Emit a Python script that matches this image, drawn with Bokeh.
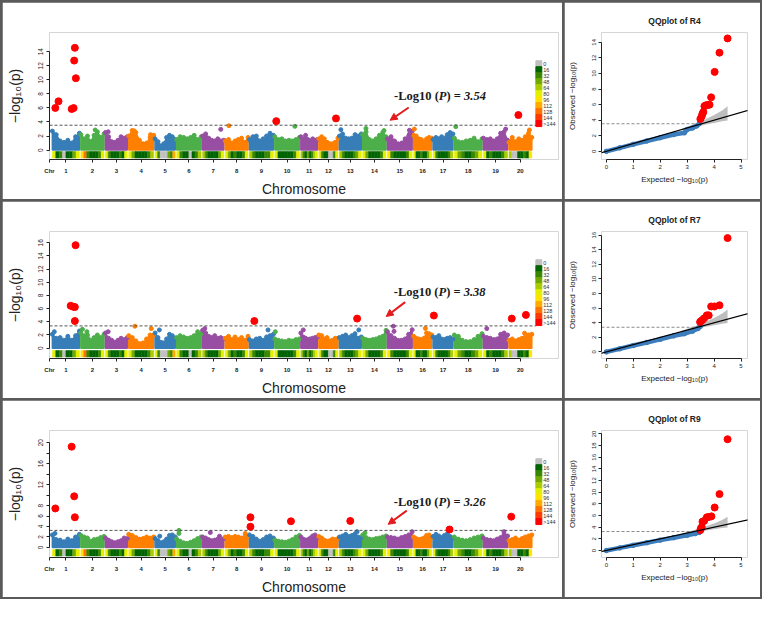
import numpy as np
from bokeh.plotting import figure
from bokeh.models import Range1d, FixedTicker, Label, Arrow, NormalHead, Slope
from bokeh.layouts import column, row
from bokeh.core.properties import value
from bokeh.embed import file_html
from bokeh.resources import INLINE

# ---------------- data ----------------
chr_names = [str(i) for i in range(1, 21)]
chr_len = [56.8, 48.6, 45.8, 52.4, 42.2, 51.4, 44.6, 47.8, 50.2, 51.6,
           34.8, 40.1, 45.9, 49.0, 51.8, 37.9, 41.6, 58.0, 50.6, 47.9]
# SNP density class per chromosome bin (0 = grey, 1..10 = green->red)
density_class = [
    [5, 1, 2, 0, 1, 1, 3, 5], [6, 8, 2, 1, 1, 1, 2, 5], [5, 2, 1, 1, 1, 2, 1, 5],
    [5, 3, 1, 1, 1, 1, 2, 4], [5, 2, 0, 0, 0, 3, 2, 7], [5, 2, 1, 1, 0, 1, 2, 4],
    [4, 2, 1, 1, 1, 1, 3, 5], [5, 3, 1, 2, 1, 1, 2, 5], [4, 2, 1, 1, 1, 2, 2, 5],
    [5, 1, 1, 1, 1, 1, 2, 5], [4, 2, 1, 3, 1, 2, 4, 5], [5, 2, 1, 1, 0, 0, 2, 5],
    [4, 2, 1, 1, 1, 2, 3, 5], [5, 3, 1, 1, 1, 1, 2, 5], [6, 2, 1, 1, 1, 1, 2, 5],
    [5, 1, 1, 2, 1, 1, 3, 5], [5, 2, 1, 1, 1, 1, 2, 4], [5, 3, 2, 1, 1, 2, 3, 5],
    [5, 1, 2, 1, 1, 1, 2, 4], [4, 0, 0, 1, 1, 2, 1, 6]]
density_labels = ["0", "16", "32", "48", "64", "80", "96", "112", "128", "144", ">144"]
density_colors = ["#C0C0C0", "#006400", "#398600", "#71A900", "#AACB00", "#E3EE00",
                  "#FFE300", "#FFAA00", "#FF7100", "#FF3900", "#FF0000"]

traits = ["R4", "R7", "R9"]
thresholds = [3.54, 3.38, 3.26]

# upper envelope of the dense SNP cloud (-log10 p) along each chromosome
profile_r4 = [
    [2.7, 2.2, 1.3, 1.1, 1.4, 1.0, 1.9, 2.4], [2.2, 1.6, 2.0, 1.2, 2.1, 2.6, 1.8, 2.3],
    [2.5, 1.9, 1.2, 1.1, 1.4, 1.9, 1.7, 1.9], [2.0, 2.8, 2.5, 1.4, 0.9, 1.0, 1.8, 2.1],
    [1.6, 1.2, 0.6, 0.9, 1.8, 2.1, 1.9, 1.5], [1.5, 1.9, 1.8, 1.6, 1.8, 2.1, 1.5, 1.9],
    [2.0, 2.3, 1.7, 1.4, 1.3, 1.6, 1.3, 1.4], [1.3, 1.5, 1.0, 1.3, 1.5, 1.7, 1.1, 1.8],
    [1.5, 1.9, 2.0, 1.3, 1.6, 2.0, 2.4, 2.1], [1.9, 1.5, 1.6, 1.3, 1.4, 1.3, 1.5, 1.8],
    [1.9, 1.6, 2.1, 1.5, 1.3, 1.6, 1.4, 1.5], [1.6, 1.9, 1.6, 1.1, 0.9, 0.9, 1.1, 1.7],
    [2.0, 2.3, 1.7, 1.6, 1.7, 2.2, 2.0, 2.3], [2.2, 2.6, 1.5, 1.3, 1.6, 2.1, 2.5, 1.9],
    [1.6, 1.9, 1.3, 0.9, 1.0, 1.6, 2.0, 2.7], [2.1, 2.0, 1.6, 1.5, 1.2, 1.6, 1.8, 1.7],
    [1.5, 1.8, 1.6, 1.9, 1.7, 2.2, 2.5, 2.3], [1.7, 1.2, 1.1, 1.3, 1.4, 1.7, 1.2, 1.6],
    [1.7, 1.5, 1.6, 1.3, 1.6, 2.4, 2.6, 1.4], [1.1, 1.8, 1.2, 1.6, 1.4, 1.9, 2.4, 1.8]]
profile_r7 = [
    [2.1, 1.5, 1.6, 1.2, 1.8, 1.2, 1.9, 2.6], [2.3, 1.9, 2.0, 1.2, 1.6, 2.0, 1.6, 2.1],
    [2.3, 1.5, 1.2, 0.9, 1.2, 1.5, 1.3, 1.6], [1.9, 1.6, 1.1, 0.7, 0.8, 1.4, 2.0, 2.0],
    [2.3, 1.6, 0.9, 0.8, 1.4, 2.1, 1.9, 1.5], [1.6, 1.9, 1.7, 1.5, 1.6, 1.9, 2.5, 2.2],
    [2.7, 2.3, 1.8, 1.6, 1.9, 1.5, 1.6, 1.4], [1.5, 1.8, 1.3, 1.7, 1.3, 1.6, 1.2, 1.8],
    [1.3, 1.1, 1.4, 1.5, 1.2, 1.7, 1.9, 2.1], [1.4, 1.2, 1.1, 1.0, 1.2, 1.1, 1.3, 1.4],
    [2.3, 1.7, 1.5, 1.3, 1.4, 1.5, 1.6, 1.7], [2.0, 1.9, 1.4, 1.6, 1.1, 1.2, 1.5, 1.5],
    [1.6, 1.8, 2.0, 1.6, 1.9, 2.2, 1.5, 1.7], [1.5, 1.3, 1.2, 1.3, 1.4, 1.6, 1.8, 2.7],
    [2.5, 1.9, 1.5, 1.2, 1.2, 1.4, 2.1, 2.8], [1.8, 1.5, 1.4, 1.3, 1.5, 2.3, 2.2, 2.0],
    [1.7, 1.6, 1.9, 1.4, 1.3, 1.5, 1.6, 1.4], [2.0, 1.8, 1.2, 1.0, 1.0, 1.3, 1.8, 2.2],
    [1.8, 1.6, 1.5, 1.3, 1.4, 2.1, 2.3, 2.0], [1.2, 1.4, 1.1, 1.3, 1.5, 1.7, 2.0, 2.1]]
profile_r9 = [
    [2.4, 1.5, 1.4, 1.1, 1.6, 1.3, 2.0, 2.5], [2.3, 2.0, 1.8, 1.2, 1.5, 1.6, 1.9, 2.1],
    [1.8, 1.4, 1.1, 0.9, 1.1, 1.3, 1.8, 1.7], [2.5, 2.3, 1.9, 1.6, 1.7, 2.0, 1.8, 2.0],
    [1.7, 1.3, 0.9, 1.1, 1.6, 2.3, 2.4, 2.0], [1.6, 1.2, 0.9, 0.8, 1.0, 1.3, 1.7, 2.0],
    [2.0, 1.8, 1.5, 1.3, 1.4, 1.6, 1.5, 1.7], [2.0, 2.1, 1.9, 2.1, 2.0, 1.8, 2.0, 2.2],
    [2.4, 2.1, 1.6, 1.2, 1.5, 2.0, 2.2, 1.8], [1.4, 1.2, 1.1, 1.0, 1.2, 1.5, 2.0, 2.3],
    [2.0, 1.6, 1.4, 1.5, 1.8, 2.2, 2.4, 1.9], [2.1, 1.8, 1.4, 1.2, 1.3, 1.6, 1.5, 1.7],
    [2.0, 2.2, 2.5, 2.1, 2.3, 2.6, 2.0, 1.9], [2.4, 1.9, 1.6, 1.5, 1.7, 1.8, 2.0, 2.2],
    [2.0, 1.9, 1.8, 1.6, 1.9, 2.1, 2.4, 3.0], [2.0, 1.7, 1.5, 1.6, 1.8, 2.3, 2.4, 1.9],
    [2.1, 2.5, 2.2, 1.9, 2.3, 2.6, 2.1, 1.8], [2.0, 1.6, 1.4, 1.3, 1.5, 1.8, 2.0, 2.2],
    [1.8, 1.5, 1.4, 1.3, 1.6, 1.9, 2.5, 2.2], [1.3, 1.5, 1.8, 1.4, 1.7, 2.0, 2.2, 2.4]]

# significant SNPs (chromosome, position Mb, -log10 p)
sig_r4_chr = [1, 1, 1, 1, 1, 1, 1, 10, 12, 20]
sig_r4_pos = [6.2, 12.9, 40.5, 44.6, 45.8, 47.2, 49.3, 3.0, 35.9, 19.7]
sig_r4_val = [6.0, 6.94, 5.85, 5.98, 12.74, 14.56, 10.23, 4.12, 4.51, 4.99]
sig_r7_chr = [1, 1, 1, 1, 1, 9, 13, 17, 20, 20]
sig_r7_pos = [38.4, 43.8, 47.2, 47.2, 48.7, 10.2, 37.2, 1.6, 5.9, 35.5]
sig_r7_val = [6.43, 6.29, 6.24, 4.12, 15.63, 4.12, 4.49, 4.95, 4.49, 5.05]
sig_r9_chr = [1, 1, 1, 1, 9, 9, 10, 13, 17, 20]
sig_r9_pos = [6.2, 40.5, 45.8, 47.2, 2.0, 2.0, 33.8, 22.8, 34.5, 4.7]
sig_r9_val = [7.45, 19.25, 9.77, 5.76, 5.76, 3.96, 5.0, 5.06, 3.43, 5.88]

# isolated sub-threshold SNPs above the cloud
pt_r4_chr = [2, 3, 4, 4, 7, 8, 10, 13, 14, 14, 15, 15, 16, 18, 19, 20]
pt_r4_pos = [30.0, 5.7, 11.7, 45.8, 38.1, 7.6, 42.0, 3.1, 6.8, 44.6, 46.0, 46.0, 1.5, 2.9, 46.6, 42.9]
pt_r4_val = [2.86, 2.6, 2.73, 2.2, 2.95, 3.47, 3.38, 2.91, 3.08, 2.78, 2.82, 2.26, 2.99, 3.34, 2.99, 2.86]
pt_r7_chr = [1, 2, 2, 3, 4, 4, 5, 7, 9, 10, 11, 13, 15, 15, 16, 19, 20]
pt_r7_pos = [4.1, 3.3, 12.7, 5.7, 13.0, 47.3, 8.9, 4.6, 38.9, 1.0, 5.1, 40.7, 12.3, 13.7, 24.7, 7.0, 32.7]
pt_r7_val = [2.5, 2.87, 2.5, 2.5, 3.33, 2.97, 2.77, 2.97, 2.77, 2.5, 2.77, 2.77, 3.33, 2.55, 3.0, 2.97, 2.27]
pt_r9_chr = [1, 5, 6, 6, 7, 7, 8, 13, 14, 19]
pt_r9_pos = [5.5, 9.7, 4.8, 4.8, 16.2, 35.5, 41.9, 37.2, 4.8, 43.1]
pt_r9_val = [2.68, 2.15, 3.26, 2.68, 2.85, 2.15, 2.68, 3.02, 2.79, 3.02]

# QQ plots: expected vs observed -log10 p
qq_r4_exp = [0, 0.5, 1.0, 1.5, 2.0, 2.5, 2.9, 3.0, 3.2, 3.35, 3.45]
qq_r4_obs = [0, 0.45, 0.9, 1.32, 1.75, 2.15, 2.38, 2.8, 3.0, 3.25, 3.55]
qq_r7_exp = [0, 0.5, 1.0, 1.5, 2.0, 2.5, 2.9, 3.2, 3.4, 3.48]
qq_r7_obs = [0, 0.43, 0.88, 1.3, 1.72, 2.2, 2.5, 2.85, 3.2, 3.47]
qq_r9_exp = [0, 0.5, 1.0, 1.5, 2.0, 2.5, 3.0, 3.3, 3.45]
qq_r9_obs = [0, 0.45, 0.9, 1.33, 1.78, 2.2, 2.6, 2.9, 3.1]
qq_r4_sig_exp = [3.49, 3.54, 3.57, 3.60, 3.64, 3.69, 3.76, 3.83, 3.89, 4.02, 4.20, 4.50]
qq_r4_sig_obs = [4.15, 4.5, 4.85, 5.05, 5.8, 5.91, 5.95, 5.99, 6.93, 10.2, 12.67, 14.5]
qq_r7_sig_exp = [3.48, 3.51, 3.57, 3.63, 3.73, 3.80, 3.89, 4.01, 4.20, 4.50]
qq_r7_sig_obs = [4.1, 4.22, 4.39, 4.6, 5.01, 5.01, 6.23, 6.23, 6.39, 15.6]
qq_r9_sig_exp = [3.49, 3.51, 3.54, 3.57, 3.63, 3.73, 3.80, 3.90, 4.02, 4.20, 4.50]
qq_r9_sig_obs = [3.5, 3.8, 4.02, 4.96, 5.07, 5.7, 5.75, 5.86, 7.38, 9.68, 19.1]
ci_exp = [2.8, 3.1, 3.4, 3.7, 4.0, 4.3, 4.5]
ci_upper = [2.9, 3.3, 3.7, 4.15, 4.65, 5.25, 5.8]
ci_lower = [2.7, 2.95, 3.2, 3.45, 3.65, 3.85, 3.95]

# ---------------- layout / style ----------------
MW, MH = 560, 197
M_L, M_R, M_T, M_B = 47, 4, 22, 40
QW, QH = 196, 197
Q_L, Q_R, Q_T, Q_B = 36, 13, 30, 32
X_LO, X_HI = -6.0, 1062.0
GAP = 3.0
LEG_X0, LEG_X1, LEG_TX = 1014.5, 1027.0, 1030.0
FONT = "Liberation Sans"
SERIF = "Liberation Serif"
chr_palette = ["#377EB8", "#4DAF4A", "#984EA3", "#FF7F00"]
chr_col = [chr_palette[i % 4] for i in range(20)]
QQ_BLUE = "#3B7DBD"

starts = []
acc = 0.0
for L in chr_len:
    starts.append(acc)
    acc += L + GAP
ends = [s + L for s, L in zip(starts, chr_len)]
centers = [round(s + L / 2, 1) for s, L in zip(starts, chr_len)]


def style_axis(ax, size_lab, size_tick):
    ax.major_tick_in = 0
    ax.major_tick_out = 3
    ax.minor_tick_line_color = None
    ax.axis_line_color = "#222222"
    ax.major_tick_line_color = "#222222"
    ax.major_label_text_font = FONT
    ax.major_label_text_font_size = size_tick
    ax.major_label_text_color = "#222222"
    ax.axis_label_text_font = FONT
    ax.axis_label_text_font_size = size_lab
    ax.axis_label_text_font_style = "normal"
    ax.axis_label_text_color = "#222222"


def manhattan(prof, s_chr, s_pos, s_val, p_chr, p_pos, p_val, thr, ylo, yhi, ymax, skip, ann):
    p = figure(width=MW, height=MH, x_range=Range1d(X_LO, X_HI), y_range=Range1d(ylo, yhi),
               output_backend="svg", toolbar_location=None,
               min_border_left=M_L, min_border_right=M_R, min_border_top=M_T, min_border_bottom=M_B)
    p.grid.visible = False
    p.outline_line_color = None
    p.background_fill_color = "white"
    p.border_fill_color = "white"
    fh = MH - M_T - M_B
    dpp = (yhi - ylo) / fh

    xs, ys, vx, vy, vc = [], [], [], [], []
    for i in range(20):
        h = prof[i]
        n = len(h)
        px = [starts[i] + chr_len[i] * k / (n - 1) for k in range(n)]
        xs.append([starts[i]] + px + [ends[i]])
        ys.append([0.0] + list(h) + [0.0])
        vx += px
        vy += list(h)
        vc += [chr_col[i]] * n
    p.patches(xs, ys, fill_color=chr_col, line_color=chr_col, line_width=1.5)
    p.scatter(vx, vy, size=4, color=vc)
    p.scatter([starts[c - 1] + q for c, q in zip(p_chr, p_pos)], p_val, size=4,
              color=[chr_col[c - 1] for c in p_chr])

    p.segment(x0=[X_LO], y0=[thr], x1=[LEG_X0], y1=[thr], line_dash="3 2",
              line_color="#555555", line_width=1)
    p.scatter([starts[c - 1] + q for c, q in zip(s_chr, s_pos)], s_val, size=7, color="#FF0000")

    # density band
    b0, b1 = ylo + 1.5 * dpp, ylo + 8.5 * dpp
    left, right, colr = [], [], []
    for i in range(20):
        nb = len(density_class[i])
        for j, cls in enumerate(density_class[i]):
            left.append(starts[i] + chr_len[i] * j / nb)
            right.append(starts[i] + chr_len[i] * (j + 1) / nb)
            colr.append(density_colors[cls])
    p.quad(left=left, right=right, bottom=b0, top=b1, fill_color=colr, line_color=colr, line_width=0.5)

    # density legend
    hs = 70.0 / len(density_labels)
    tops = [yhi - (30 + k * hs) * dpp for k in range(len(density_labels))]
    bots = [t - hs * dpp for t in tops]
    p.quad(left=LEG_X0, right=LEG_X1, top=tops, bottom=bots, fill_color=density_colors,
           line_color=density_colors)
    p.text(x=[LEG_TX] * len(density_labels), y=[(t + b) / 2 for t, b in zip(tops, bots)],
           text=density_labels, text_font=value(FONT), text_font_size="5.5px",
           text_baseline="middle", text_color="#333333")

    # threshold annotation
    F = 12.5
    pieces = [("-Log10", "bold", 0.0), ("(", "bold", 3.25), ("P", "bold italic", 3.583),
              (")", "bold", 4.194), ("=", "bold", 4.777), (f"{thr:.2f}", "bold italic", 5.597)]
    for txt, st, off in pieces:
        p.add_layout(Label(x=ann[0], y=ann[1], x_offset=off * F, text=txt, text_font=SERIF,
                           text_font_style=st, text_font_size=f"{F}px", text_baseline="middle",
                           text_color="#1a1a1a"))
    p.add_layout(Arrow(x_start=ann[2], y_start=ann[3], x_end=ann[4], y_end=ann[5],
                       line_color="#E41A1C", line_width=2,
                       end=NormalHead(size=7, fill_color="#E41A1C", line_color="#E41A1C")))

    # axes
    p.xaxis.ticker = FixedTicker(ticks=[X_LO] + centers)
    ov = {X_LO: "Chr"}
    for c, nm in zip(centers, chr_names):
        ov[c] = nm
    p.xaxis.major_label_overrides = ov
    p.xaxis.bounds = (X_LO, centers[-1])
    yt = list(range(0, ymax + 1, 2))
    p.yaxis.ticker = FixedTicker(ticks=yt)
    p.yaxis.major_label_overrides = {t: "" for t in skip}
    p.yaxis.bounds = (0, ymax)
    style_axis(p.xaxis[0], "14px", "6px")
    style_axis(p.yaxis[0], "14px", "6.5px")
    p.xaxis.major_label_text_font_style = "bold"
    p.xaxis.major_label_standoff = 5
    p.xaxis.axis_label = "Chromosome"
    p.xaxis.axis_label_standoff = 4
    p.yaxis.axis_label = "−log₁₀(p)"
    p.yaxis.major_label_orientation = "vertical"
    p.yaxis.major_label_standoff = 3
    p.yaxis.axis_label_standoff = 13
    return p


def qq(title, thr, bx, by, rx, ry, ylo, yhi, ymax):
    p = figure(width=QW, height=QH, x_range=Range1d(-0.18, 5.24), y_range=Range1d(ylo, yhi),
               output_backend="svg", toolbar_location=None,
               min_border_left=Q_L, min_border_right=Q_R, min_border_top=Q_T, min_border_bottom=Q_B)
    p.grid.visible = False
    p.outline_line_color = None
    p.background_fill_color = "white"
    p.border_fill_color = "white"
    p.title.text = title
    p.title.align = "center"
    p.title.text_font = FONT
    p.title.text_font_size = "8.5px"
    p.title.text_font_style = "bold"
    p.title.text_color = "#222222"
    p.title.standoff = 14

    p.varea(x=ci_exp, y1=ci_lower, y2=ci_upper, fill_color="#BEBEBE")
    p.segment(x0=[-0.18], y0=[thr], x1=[thr], y1=[thr], line_dash="3 2",
              line_color="#8A8A8A", line_width=1)
    p.line(bx, by, line_width=4.5, color=QQ_BLUE, line_cap="round", line_join="round")
    p.scatter(bx, by, size=4.5, color=QQ_BLUE)
    p.add_layout(Slope(gradient=1, y_intercept=0, line_color="black", line_width=1.3))
    p.scatter(rx, ry, size=7, color="#FF0000")

    p.xaxis.ticker = FixedTicker(ticks=[0, 1, 2, 3, 4, 5])
    p.xaxis.bounds = (0, 5)
    p.yaxis.ticker = FixedTicker(ticks=list(range(0, ymax + 1, 2)))
    p.yaxis.bounds = (0, ymax)
    style_axis(p.xaxis[0], "8px", "6px")
    style_axis(p.yaxis[0], "8px", "6px")
    p.xaxis.axis_label = "Expected −log₁₀(p)"
    p.yaxis.axis_label = "Observed −log₁₀(p)"
    p.xaxis.major_label_standoff = 2
    p.xaxis.axis_label_standoff = 3
    p.yaxis.major_label_orientation = "vertical"
    p.yaxis.major_label_standoff = 2
    p.yaxis.axis_label_standoff = 13
    return p


m1 = manhattan(profile_r4, sig_r4_chr, sig_r4_pos, sig_r4_val, pt_r4_chr, pt_r4_pos, pt_r4_val,
               thresholds[0], -1.34, 16.74, 14, [], (717.0, 7.63, 747.7, 6.07, 708.7, 4.25))
m2 = manhattan(profile_r7, sig_r7_chr, sig_r7_pos, sig_r7_val, pt_r7_chr, pt_r7_pos, pt_r7_val,
               thresholds[1], -1.57, 17.71, 16, [], (716.3, 8.6, 740.2, 6.99, 700.5, 4.81))
m3 = manhattan(profile_r9, sig_r9_chr, sig_r9_pos, sig_r9_val, pt_r9_chr, pt_r9_pos, pt_r9_val,
               thresholds[2], -1.92, 22.34, 20, [10, 14, 18], (716.3, 8.67, 743.6, 7.03, 704.6, 4.42))

q1 = qq("QQplot of " + traits[0], thresholds[0], qq_r4_exp, qq_r4_obs, qq_r4_sig_exp, qq_r4_sig_obs,
        -1.05, 15.26, 14)
q2 = qq("QQplot of " + traits[1], thresholds[1], qq_r7_exp, qq_r7_obs, qq_r7_sig_exp, qq_r7_sig_obs,
        -0.9, 16.5, 16)
q3 = qq("QQplot of " + traits[2], thresholds[2], qq_r9_exp, qq_r9_obs, qq_r9_sig_exp, qq_r9_sig_obs,
        -1.2, 20.6, 20)

layout = column(row(m1, q1, spacing=2), row(m2, q2, spacing=2), row(m3, q3, spacing=2),
                spacing=2, styles={"background-color": "#5a5a5a", "padding": "2px"})

open("out.html", "w").write(file_html(layout, INLINE))
